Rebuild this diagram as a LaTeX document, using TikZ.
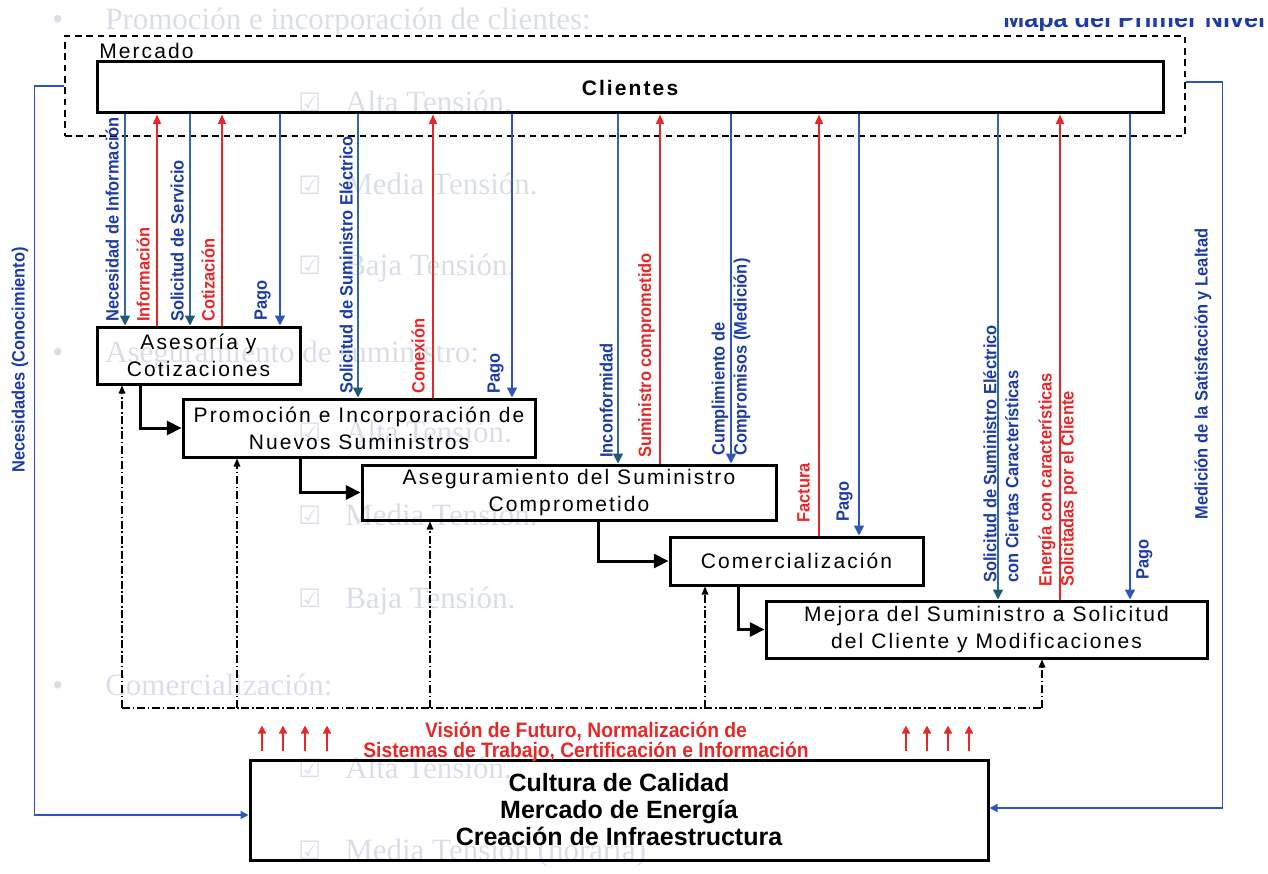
\documentclass[tikz,border=0pt]{standalone}
\usepackage{fontspec}
\setmainfont{Liberation Sans}
\newfontfamily\boxfont[LetterSpace=10]{Liberation Sans}
\newfontfamily\condfont[FakeStretch=0.92]{Liberation Sans}
\newfontfamily\paperfont{Liberation Serif}
\newfontfamily\tickfont{DejaVu Sans}
\usetikzlibrary{arrows.meta}

\definecolor{flowblue}{RGB}{45,85,190}
\definecolor{flowteal}{RGB}{50,105,165}
\definecolor{tipteal}{RGB}{30,90,120}
\definecolor{labelblue}{RGB}{30,60,165}
\definecolor{flowred}{RGB}{232,40,40}
\definecolor{paper}{RGB}{218,222,233}

\newcommand\boxtext{\boxfont\fontsize{15.75}{20.25}\selectfont}
\newcommand\boxbold{\boxfont\bfseries\fontsize{15.75}{20.25}\selectfont}
\newcommand\lbltext{\condfont\bfseries\fontsize{13.4}{16.5}\selectfont}
\newcommand\noticetext{\condfont\bfseries\fontsize{15.7}{15}\selectfont}
\newcommand\basetext{\bfseries\fontsize{18.75}{20.25}\selectfont}
\newcommand\papertext{\paperfont\fontsize{23.25}{28}\selectfont}
\newcommand\ticktext{\tickfont\fontsize{19}{20}\selectfont}

\begin{document}
\begin{tikzpicture}[x=0.75pt,y=-0.75pt,
  box/.style={draw=black, line width=2.25pt, inner sep=0pt, align=center, font=\boxtext},
  lbl/.style={rotate=90, inner sep=0pt, align=left, font=\lbltext},
  dn/.style={draw=flowblue, line width=1.1pt, -{Triangle[length=7.5pt,width=7.5pt]}},
  dnteal/.style={draw=flowteal, line width=1.1pt, -{Triangle[length=7.5pt,width=7.5pt,color=tipteal]}},
  up/.style={draw=flowred, line width=1.1pt, -{Triangle[length=7pt,width=6pt]}},
  flow/.style={draw=black, line width=2.25pt, -{Triangle[length=11pt,width=10.5pt]}},
  dd/.style={draw=black, line width=0.8pt, dash pattern=on 6pt off 2pt on 1.2pt off 2pt},
  ddtip/.style={-{Triangle[length=6pt,width=5pt]}},
  mkt/.style={draw=black, line width=1.1pt, dash pattern=on 5pt off 3.5pt},
  loopline/.style={draw=flowblue, line width=1.1pt, -{Triangle[length=6pt,width=6pt]}},
  riser/.style={draw=flowred, line width=1.1pt, -{Triangle[length=6pt,width=6pt]}},
  sheet/.style={text=paper, inner sep=0pt, anchor=base west, font=\papertext},
  tick/.style={text=paper, inner sep=0pt, anchor=base west, font=\ticktext}]
\useasboundingbox (0,0) rectangle (1268,874);

% printed page underneath the chart
\node[sheet] (s1b) at (52,30) {•};
\node[sheet] (s1) at (105,30) {Promoción e incorporación de clientes:};
\node[tick] (t2) at (298,112) {☑};
\node[sheet] (s2) at (345,113) {Alta Tensión.};
\node[tick] (t3) at (298,194) {☑};
\node[sheet] (s3) at (345,195) {Media Tensión.};
\node[tick] (t4) at (298,274) {☑};
\node[sheet] (s4) at (345,275) {Baja Tensión.};
\node[sheet] (s5b) at (52,362) {•};
\node[sheet] (s5) at (105,362) {Aseguramiento de suministro:};
\node[tick] (t6) at (298,441) {☑};
\node[sheet] (s6) at (345,442) {Alta Tensión.};
\node[tick] (t7) at (298,524) {☑};
\node[sheet] (s7) at (345,525) {Media Tensión.};
\node[tick] (t8) at (298,607) {☑};
\node[sheet] (s8) at (345,608) {Baja Tensión.};
\node[sheet] (s9b) at (52,695) {•};
\node[sheet] (s9) at (105,695) {Comercialización:};
\node[tick] (t10) at (298,777) {☑};
\node[sheet] (s10) at (345,778) {Alta Tensión.};
\node[tick] (t11) at (298,859) {☑};
\node[sheet] (s11) at (345,860) {Media Tensión (horaria)};

% title, partly hidden at the top edge
\begin{scope}
  \clip (990,19) rectangle (1268,31);
  \node[anchor=base west, inner sep=0pt, text=labelblue,
        font=\bfseries\fontsize{18.9}{20}\selectfont] (mapa) at (1003,28) {Mapa del Primer Nivel};
\end{scope}

% market frame and customers
\node[mkt, inner sep=0pt, minimum width=840pt, minimum height=75pt] (mercado) at (625,86) {};
\node[font=\boxtext, anchor=west, inner sep=0pt] (mercadolbl) at (99,51) {Mercado};
\node[box, minimum width=799.5pt, minimum height=38.25pt, font=\boxbold] (clientes) at (630,87.5) {Clientes};

% process chain
\node[box, minimum width=152.25pt, minimum height=42.75pt] (ases) at (198.5,355.5) {Asesoría y\\Cotizaciones};
\node[box, minimum width=264pt, minimum height=43.5pt] (promo) at (359,428) {Promoción e Incorporación de\\Nuevos Suministros};
\node[box, minimum width=310.5pt, minimum height=41.25pt] (aseg) at (569,492.5) {Aseguramiento del Suministro\\Comprometido};
\node[box, minimum width=189.75pt, minimum height=36pt] (comer) at (796.5,561) {Comercialización};
\node[box, minimum width=330.75pt, minimum height=42.75pt] (mejora) at (986.5,629.5) {Mejora del Suministro a Solicitud\\del Cliente y Modificaciones};
\node[box, minimum width=553.5pt, minimum height=75pt, font=\basetext] (cultura) at (619,810) {Cultura de Calidad\\Mercado de Energía\\Creación de Infraestructura};

\draw[flow] (ases.south -| 140,0) |- (promo.west);
\draw[flow] (promo.south -| 300,0) |- (aseg.west);
\draw[flow] (aseg.south -| 598,0) |- (comer.west);
\draw[flow] (comer.south -| 738,0) |- (mejora.west);

% exchanges with the customers
\draw[dnteal] (clientes.south -| 125,0) -- (ases.north -| 125,0);
\draw[up] (ases.north -| 157,0) -- (clientes.south -| 157,0);
\draw[dnteal] (clientes.south -| 190,0) -- (ases.north -| 190,0);
\draw[up] (ases.north -| 222,0) -- (clientes.south -| 222,0);
\draw[dn] (clientes.south -| 280,0) -- (ases.north -| 280,0);
\node[lbl, text=labelblue, anchor=south west] (l1) at (119,322) {Necesidad de Información};
\node[lbl, text=flowred, anchor=south west] (l2) at (150,322) {Información};
\node[lbl, text=labelblue, anchor=south west] (l3) at (184,322) {Solicitud de Servicio};
\node[lbl, text=flowred, anchor=south west] (l4) at (215,322) {Cotización};
\node[lbl, text=labelblue, anchor=south west] (l5) at (271,321) {Pago};

\draw[dnteal] (clientes.south -| 358,0) -- (promo.north -| 358,0);
\draw[up] (promo.north -| 433,0) -- (clientes.south -| 433,0);
\draw[dn] (clientes.south -| 512,0) -- (promo.north -| 512,0);
\node[lbl, text=labelblue, anchor=south west] (l6) at (353,394) {Solicitud de Suministro Eléctrico};
\node[lbl, text=flowred, anchor=south west] (l7) at (425,394) {Conexión};
\node[lbl, text=labelblue, anchor=south west] (l8) at (504,394) {Pago};

\draw[dnteal] (clientes.south -| 618,0) -- (aseg.north -| 618,0);
\draw[up] (aseg.north -| 660,0) -- (clientes.south -| 660,0);
\draw[dn] (clientes.south -| 731,0) -- (aseg.north -| 731,0);
\node[lbl, text=labelblue, anchor=south west] (l9) at (613,458) {Inconformidad};
\node[lbl, text=flowred, anchor=south west] (l10) at (655,458) {Suministro comprometido};
\node[lbl, text=labelblue, anchor=west] (l11) at (731,456) {Cumplimiento de\\Compromisos (Medición)};

\draw[up] (comer.north -| 819,0) -- (clientes.south -| 819,0);
\draw[dn] (clientes.south -| 859,0) -- (comer.north -| 859,0);
\node[lbl, text=flowred, anchor=south west] (l12) at (810,523) {Factura};
\node[lbl, text=labelblue, anchor=south west] (l13) at (853,522) {Pago};

\draw[dnteal] (clientes.south -| 998,0) -- (mejora.north -| 998,0);
\draw[up] (mejora.north -| 1060,0) -- (clientes.south -| 1060,0);
\draw[dn] (clientes.south -| 1130,0) -- (mejora.north -| 1130,0);
\node[lbl, text=labelblue, anchor=west] (l14) at (1001,583) {Solicitud de Suministro Eléctrico\\con Ciertas Características};
\node[lbl, text=flowred, anchor=west] (l15) at (1058,587) {Energía con características\\Solicitadas por el Cliente};
\node[lbl, text=labelblue, anchor=north west] (l16) at (1136,580) {Pago};

% feedback loops through the market
\draw[loopline] (mercado.west) -- ++(-30,0) |- ([yshift=-3.75pt]cultura.west);
\draw[loopline] ([yshift=3pt]mercado.east) -- ++(37,0) |- ([yshift=1.5pt]cultura.east);
\node[lbl, text=labelblue] (needs) at (20,360) {Necesidades (Conocimiento)};
\node[lbl, text=labelblue] (survey) at (1203,374) {Medición de la Satisfacción y Lealtad};

% support from the base
\coordinate (dd1) at (122,708);
\coordinate (dd2) at (237,708);
\coordinate (dd3) at (430,708);
\coordinate (dd4) at (705,708);
\coordinate (dd5) at (1042,708);
\draw[dd] (dd1) -- (dd5);
\draw[dd, ddtip] (dd1) -- (ases.south -| dd1);
\draw[dd, ddtip] (dd2) -- (promo.south -| dd2);
\draw[dd, ddtip] (dd3) -- (aseg.south -| dd3);
\draw[dd, ddtip] (dd4) -- (comer.south -| dd4);
\draw[dd, ddtip] (dd5) -- (mejora.south -| dd5);

\foreach \x in {262,283,305,327,906,927,948,969}
  \draw[riser] ([yshift=6pt]cultura.north -| \x,0) -- ++(0,-25);
\node[font=\noticetext, text=flowred, align=center, inner sep=0pt] (vision) at (586,742)
  {Visión de Futuro, Normalización de\\Sistemas de Trabajo, Certificación e Información};
\end{tikzpicture}
\end{document}
